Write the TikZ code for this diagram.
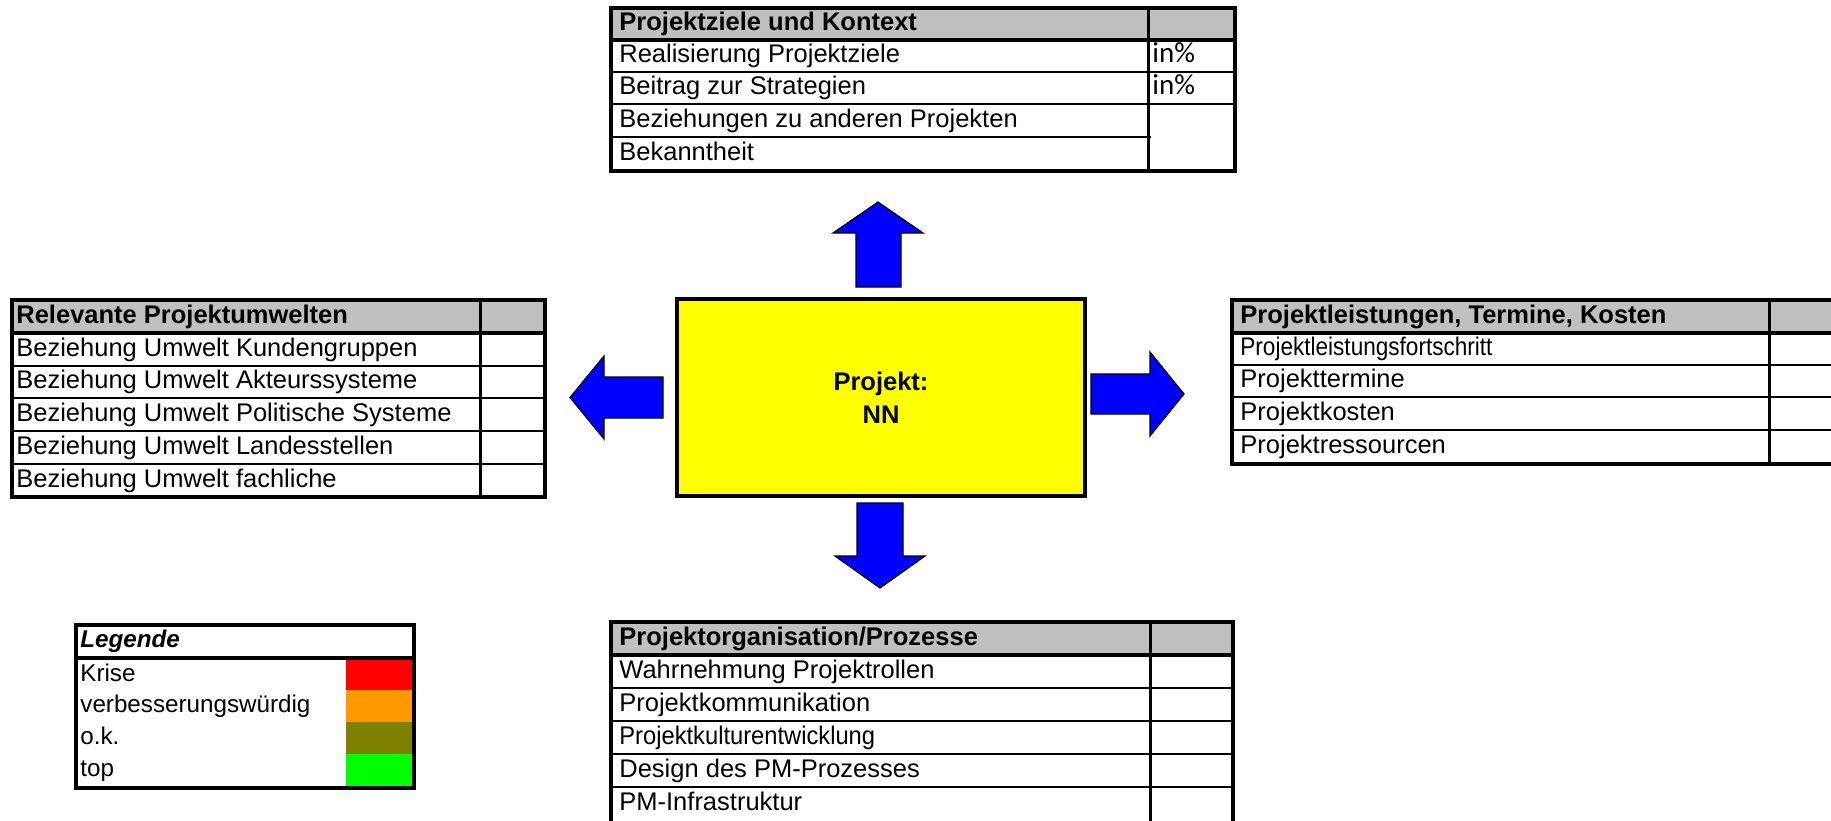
\documentclass[tikz,border=0pt]{standalone}
\usepackage{fontspec}
\usepackage{graphicx}
\setmainfont{Liberation Sans}
\newfontfamily\calibrifont{Carlito}
\usetikzlibrary{positioning}

\definecolor{kopfgrau}{RGB}{192,192,192}
\definecolor{projgelb}{RGB}{255,255,0}
\definecolor{pfeilblau}{RGB}{0,0,255}
\definecolor{krise}{RGB}{255,0,0}
\definecolor{verbesserung}{RGB}{255,153,0}
\definecolor{okay}{RGB}{128,128,0}
\definecolor{spitze}{RGB}{0,255,0}

\newcommand{\schmal}[2]{\scalebox{#1}[1]{#2}}

\tikzset{
  zelle/.style={anchor=west, inner sep=0pt, text height=1.5ex, text depth=.25ex,
    font=\fontsize{12.75}{15}\selectfont},
  kopf/.style={zelle, font=\fontsize{12.75}{15}\selectfont\bfseries},
  prozent/.style={zelle, font=\calibrifont\fontsize{14.5}{16}\selectfont},
  legzelle/.style={zelle, font=\fontsize{12.1}{15}\selectfont},
  rand/.style={line width=2pt},
  linie/.style={line width=1pt},
  spalte/.style={line width=1.5pt},
  pfeil/.style={fill=pfeilblau, draw=black, line width=.6pt},
  projekt/.style={draw, line width=2.4pt, fill=projgelb, minimum width=204pt,
    minimum height=98.5pt, align=center, font=\fontsize{12.75}{16.3}\selectfont\bfseries}
}

\begin{document}
\begin{tikzpicture}[x=0.5pt, y=-0.5pt]
  \useasboundingbox (0,0) rectangle (1831,820);

  % Projektziele und Kontext
  \fill[kopfgrau] (611,8) rectangle (1235,40);
  \foreach \y in {72,104} \draw[linie] (611,\y) -- (1235,\y);
  \draw[linie] (611,137) -- (1151,137);
  \draw[spalte] (1148,8) -- (1148,171);
  \draw[rand] (611,40) -- (1235,40);
  \draw[rand] (611,8) rectangle (1235,171);
  \node[kopf] (ziele) at (619,24) {Projektziele und Kontext};
  \foreach \y/\txt [count=\i] in {56/Realisierung Projektziele, 88/Beitrag zur Strategien,
      120.5/Beziehungen zu anderen Projekten, 154/Bekanntheit}
    \node[zelle] (ziele-\i) at (619,\y) {\txt};
  \node[prozent] (ziele-p1) at (1152,56) {in\%};
  \node[prozent] (ziele-p2) at (1152,88) {in\%};

  % Relevante Projektumwelten
  \fill[kopfgrau] (12,300) rectangle (545,333);
  \foreach \y in {366,398,431,464} \draw[linie] (12,\y) -- (545,\y);
  \draw[spalte] (480,300) -- (480,497);
  \draw[rand] (12,333) -- (545,333);
  \draw[rand] (12,300) rectangle (545,497);
  \node[kopf] (umwelt) at (16,316.5) {Relevante Projektumwelten};
  \foreach \y/\txt [count=\i] in {349.5/Beziehung Umwelt Kundengruppen,
      382/Beziehung Umwelt Akteurssysteme, 414.5/Beziehung Umwelt Politische Systeme,
      447.5/Beziehung Umwelt Landesstellen, 480.5/Beziehung Umwelt fachliche}
    \node[zelle] (umwelt-\i) at (16,\y) {\txt};

  % Projektleistungen, Termine, Kosten
  \fill[kopfgrau] (1232,300) rectangle (1880,333);
  \foreach \y in {365,397,430} \draw[linie] (1232,\y) -- (1880,\y);
  \draw[spalte] (1769,300) -- (1769,464);
  \draw[rand] (1232,333) -- (1880,333);
  \draw[rand] (1232,300) rectangle (1880,464);
  \node[kopf] (leistung) at (1240,316.5) {Projektleistungen, Termine, Kosten};
  \foreach \y/\txt [count=\i] in {349/\schmal{.885}{Projektleistungsfortschritt},
      381/Projekttermine, 413.5/Projektkosten, 447/Projektressourcen}
    \node[zelle] (leistung-\i) at (1240,\y) {\txt};

  % Projektorganisation/Prozesse
  \fill[kopfgrau] (611,622) rectangle (1233,655);
  \foreach \y in {688,721,754,787} \draw[linie] (611,\y) -- (1233,\y);
  \draw[spalte] (1150,622) -- (1150,824);
  \draw[rand] (611,655) -- (1233,655);
  \draw[rand] (611,622) rectangle (1233,824);
  \node[kopf] (organisation) at (619,638.5) {Projektorganisation/Prozesse};
  \foreach \y/\txt [count=\i] in {671.5/Wahrnehmung Projektrollen,
      704.5/Projektkommunikation, 737.5/\schmal{.93}{Projektkulturentwicklung},
      770.5/Design des PM-Prozesses, 803.5/PM-Infrastruktur}
    \node[zelle] (organisation-\i) at (619,\y) {\txt};

  % Legende
  \fill[krise] (346,660) rectangle (412,690);
  \fill[verbesserung] (346,690) rectangle (412,722);
  \fill[okay] (346,722) rectangle (412,754);
  \fill[spitze] (346,754) rectangle (412,786);
  \draw[rand] (76,658) -- (414,658);
  \draw[rand] (76,625) rectangle (414,788);
  \node[legzelle, font=\fontsize{12.1}{15}\selectfont\bfseries\itshape] (legende) at (80,641) {Legende};
  \foreach \y/\txt [count=\i] in {675/Krise, 706/verbesserungswürdig, 738/o.k., 770/top}
    \node[legzelle] (legende-\i) at (80,\y) {\txt};

  % Projekt
  \node[projekt] (projekt) at (881,397.5) {Projekt:\\NN};

  \draw[pfeil] (856,287) -- (856,233) -- (833,233) -- (878,202)
               -- (923,233) -- (901,233) -- (901,287) -- cycle;
  \draw[pfeil] (857,503) -- (903,503) -- (903,556) -- (925,556)
               -- (880,588) -- (835,556) -- (857,556) -- cycle;
  \draw[pfeil] (663,377) -- (604,377) -- (604,356) -- (570,397.5)
               -- (604,439) -- (604,418) -- (663,418) -- cycle;
  \draw[pfeil] (1091,374) -- (1150,374) -- (1150,352) -- (1184,394)
               -- (1150,436) -- (1150,414) -- (1091,414) -- cycle;
\end{tikzpicture}
\end{document}
